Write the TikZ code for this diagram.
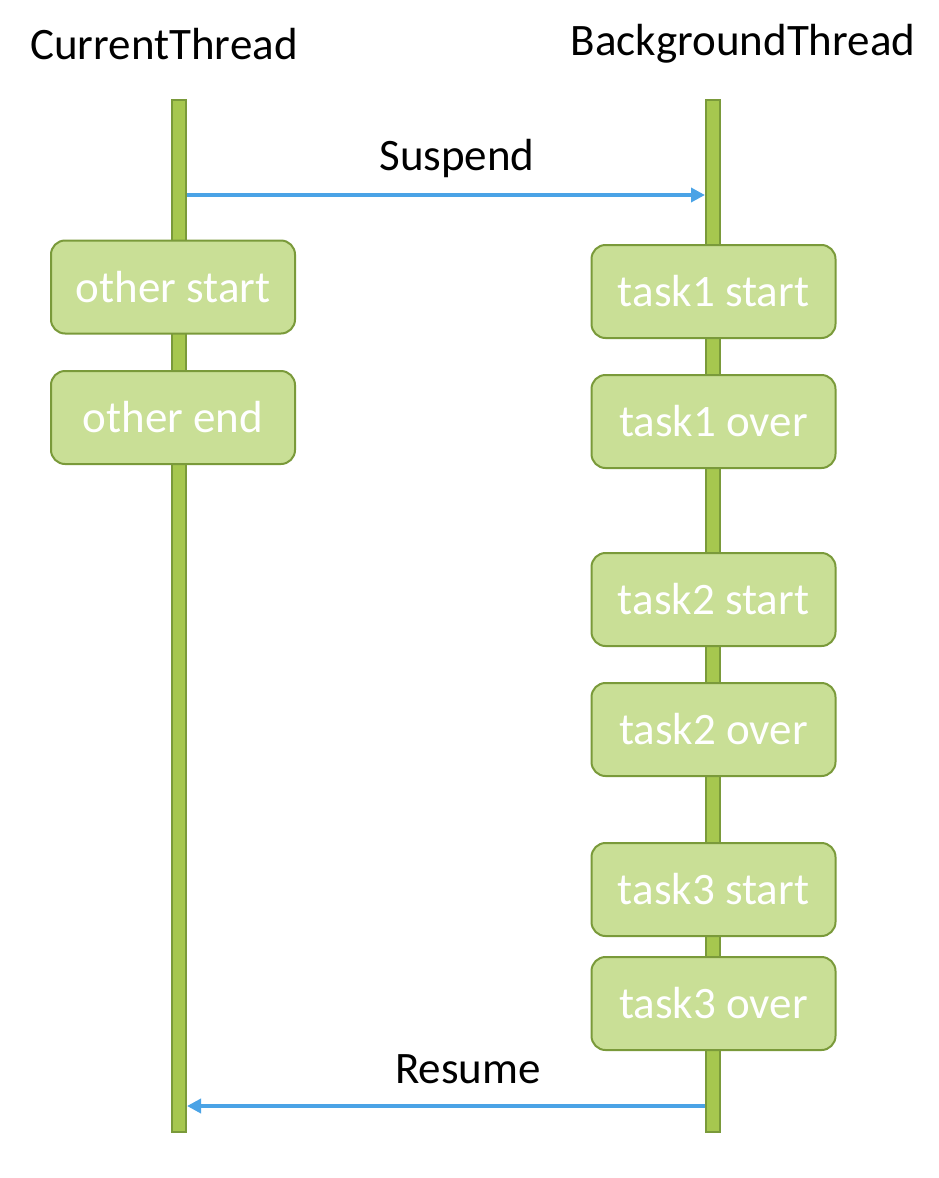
\documentclass[tikz,border=0pt]{standalone}
\usepackage{fontspec}
\setmainfont{Carlito}
\usetikzlibrary{arrows.meta}
\definecolor{barfill}{HTML}{A6C74F}
\definecolor{barline}{HTML}{7A9A3A}
\definecolor{boxfill}{HTML}{C9DF96}
\definecolor{arrowblue}{HTML}{4AA3E6}
\tikzset{
  lifeline/.style={draw=barline, fill=barfill, line width=2pt, minimum width=14pt, minimum height=1032pt, inner sep=0pt},
  stepbox/.style={draw=barline, fill=boxfill, line width=2pt, rounded corners=14pt, minimum width=244pt, minimum height=93pt, inner sep=0pt, text=white, font=\fontsize{45}{50}\selectfont},
  title/.style={font=\fontsize{45}{50}\selectfont, text=black, inner sep=0pt},
  msg/.style={draw=arrowblue, line width=4pt, -{Triangle[length=14pt, width=14pt]}}
}
\begin{document}
\begin{tikzpicture}[x=1pt, y=-1pt]
\useasboundingbox (0,0) rectangle (938,1178);
\node[title] (tcur) at (164,44) {CurrentThread};
\node[title] (tbg) at (743,44) {BackgroundThread};
\node[lifeline] (cur) at (179,616) {};
\node[lifeline] (bg) at (713,616) {};
\node[stepbox] (os) at (173,287) {other start};
\node[stepbox] (oe) at (173,417.5) {other end};
\node[stepbox] (t1s) at (713.5,291.5) {task1 start};
\node[stepbox] (t1o) at (713.5,421.5) {task1 over};
\node[stepbox] (t2s) at (713.5,599.5) {task2 start};
\node[stepbox] (t2o) at (713.5,729.5) {task2 over};
\node[stepbox] (t3s) at (713.5,889.5) {task3 start};
\node[stepbox] (t3o) at (713.5,1003.5) {task3 over};
\coordinate (s1) at (cur.east |- 0,195);
\coordinate (s2) at (bg.west |- 0,195);
\coordinate (r1) at (bg.west |- 0,1106);
\coordinate (r2) at (cur.east |- 0,1106);
\draw[msg] (s1) -- node[title, above=15pt, xshift=11pt] (lsus) {Suspend} (s2);
\draw[msg] (r1) -- node[title, above=20pt, xshift=22pt] (lres) {Resume} (r2);
\end{tikzpicture}
\end{document}
